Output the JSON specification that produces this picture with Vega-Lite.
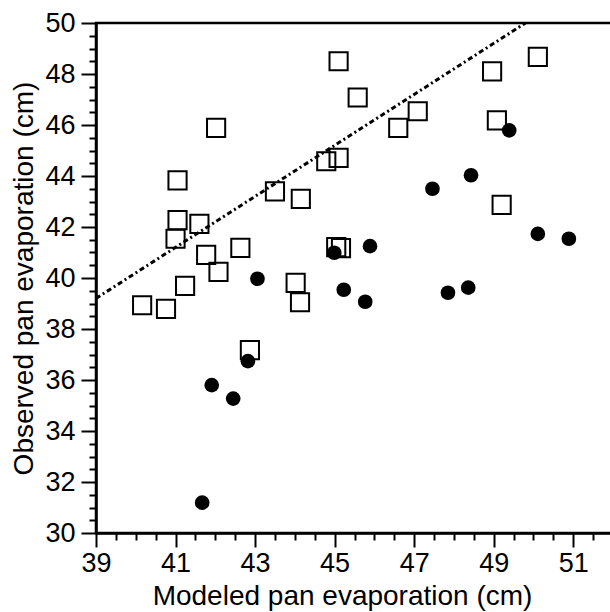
{
  "$schema": "https://vega.github.io/schema/vega-lite/v6.json",
  "width": 517,
  "height": 510,
  "autosize": "none",
  "padding": {"left": 96, "top": 23, "right": 0, "bottom": 79},
  "background": "white",
  "config": {
    "view": {"stroke": "black", "strokeWidth": 2.5},
    "font": "Liberation Sans",
    "axis": {"grid": false, "tickColor": "black", "domainColor": "black", "labelColor": "black", "titleColor": "black", "titleFontWeight": "normal", "labelFlush": false, "labelOverlap": false}
  },
  "datasets": {
    "squares": [
      {"modeled": 40.16, "observed": 38.93},
      {"modeled": 40.76, "observed": 38.79},
      {"modeled": 41.24, "observed": 39.69},
      {"modeled": 41.0, "observed": 41.54},
      {"modeled": 41.05, "observed": 42.27},
      {"modeled": 41.05, "observed": 43.83},
      {"modeled": 41.6, "observed": 42.12},
      {"modeled": 41.77, "observed": 40.91},
      {"modeled": 42.08, "observed": 40.24},
      {"modeled": 42.02, "observed": 45.89},
      {"modeled": 42.63, "observed": 41.18},
      {"modeled": 42.87, "observed": 37.17},
      {"modeled": 43.5, "observed": 43.4},
      {"modeled": 44.15, "observed": 43.1},
      {"modeled": 44.02, "observed": 39.81},
      {"modeled": 44.13, "observed": 39.05},
      {"modeled": 44.79, "observed": 44.58},
      {"modeled": 45.1, "observed": 44.71},
      {"modeled": 45.1, "observed": 48.5},
      {"modeled": 45.58, "observed": 47.08},
      {"modeled": 45.04, "observed": 41.21},
      {"modeled": 45.16, "observed": 41.17},
      {"modeled": 46.6, "observed": 45.89},
      {"modeled": 47.09, "observed": 46.54},
      {"modeled": 48.96, "observed": 48.1},
      {"modeled": 49.08, "observed": 46.18},
      {"modeled": 49.2, "observed": 42.87},
      {"modeled": 50.11, "observed": 48.67}
    ],
    "circles": [
      {"modeled": 41.67, "observed": 31.19},
      {"modeled": 41.91, "observed": 35.8},
      {"modeled": 42.45, "observed": 35.27},
      {"modeled": 42.82, "observed": 36.74},
      {"modeled": 43.06, "observed": 39.97},
      {"modeled": 44.99, "observed": 40.99},
      {"modeled": 45.23, "observed": 39.54},
      {"modeled": 45.89, "observed": 41.25},
      {"modeled": 45.77, "observed": 39.07},
      {"modeled": 47.46, "observed": 43.5},
      {"modeled": 47.85, "observed": 39.42},
      {"modeled": 48.36, "observed": 39.62},
      {"modeled": 48.43, "observed": 44.03},
      {"modeled": 49.39, "observed": 45.79},
      {"modeled": 50.11, "observed": 41.73},
      {"modeled": 50.89, "observed": 41.54}
    ],
    "fit": [
      {"modeled": 39, "observed": 39.2},
      {"modeled": 49.8, "observed": 50}
    ]
  },
  "layer": [
    {
      "data": {"name": "squares"},
      "mark": {"type": "point", "shape": "square", "filled": false, "size": 330, "stroke": "black", "strokeWidth": 2, "opacity": 1},
      "encoding": {
        "x": {
          "field": "modeled",
          "type": "quantitative",
          "scale": {"domain": [39, 52], "nice": false, "zero": false},
          "axis": {
            "orient": "bottom",
            "title": "Modeled pan evaporation (cm)",
            "values": [39, 41, 43, 45, 47, 49, 51],
            "format": "d",
            "tickSize": 14,
            "tickWidth": 2,
            "domainWidth": 2.5,
            "labelFontSize": 27,
            "labelPadding": 3,
            "titleFontSize": 28,
            "titlePadding": 6,
            "titleX": 246
          }
        },
        "y": {
          "field": "observed",
          "type": "quantitative",
          "scale": {"domain": [30, 50], "nice": false, "zero": false},
          "axis": {
            "orient": "left",
            "title": "Observed pan evaporation (cm)",
            "values": [30, 32, 34, 36, 38, 40, 42, 44, 46, 48, 50],
            "format": "d",
            "tickSize": 15,
            "tickWidth": 2,
            "domainWidth": 2.5,
            "labelFontSize": 27,
            "labelPadding": 6,
            "titleFontSize": 28,
            "titlePadding": 6
          }
        }
      }
    },
    {
      "data": {"name": "fit"},
      "mark": {"type": "line", "color": "black", "strokeWidth": 3, "strokeDash": [5, 3, 2, 3], "clip": true},
      "encoding": {
        "x": {
          "field": "modeled",
          "type": "quantitative",
          "scale": {"domain": [39, 52], "nice": false, "zero": false},
          "axis": {
            "orient": "bottom",
            "title": null,
            "values": [39.5, 40, 40.5, 41.5, 42, 42.5, 43.5, 44, 44.5, 45.5, 46, 46.5, 47.5, 48, 48.5, 49.5, 50, 50.5, 51.5],
            "labels": false,
            "domain": false,
            "tickSize": 7,
            "tickWidth": 2
          }
        },
        "y": {
          "field": "observed",
          "type": "quantitative",
          "scale": {"domain": [30, 50], "nice": false, "zero": false},
          "axis": {
            "orient": "left",
            "title": null,
            "values": [30.5, 31, 31.5, 32.5, 33, 33.5, 34.5, 35, 35.5, 36.5, 37, 37.5, 38.5, 39, 39.5, 40.5, 41, 41.5, 42.5, 43, 43.5, 44.5, 45, 45.5, 46.5, 47, 47.5, 48.5, 49, 49.5],
            "labels": false,
            "domain": false,
            "tickSize": 7,
            "tickWidth": 2
          }
        }
      }
    },
    {
      "data": {"name": "circles"},
      "mark": {"type": "circle", "size": 215, "color": "black", "opacity": 1},
      "encoding": {
        "x": {"field": "modeled", "type": "quantitative", "scale": {"domain": [39, 52], "nice": false, "zero": false}, "axis": null},
        "y": {"field": "observed", "type": "quantitative", "scale": {"domain": [30, 50], "nice": false, "zero": false}, "axis": null}
      }
    }
  ],
  "resolve": {"axis": {"x": "independent", "y": "independent"}}
}
